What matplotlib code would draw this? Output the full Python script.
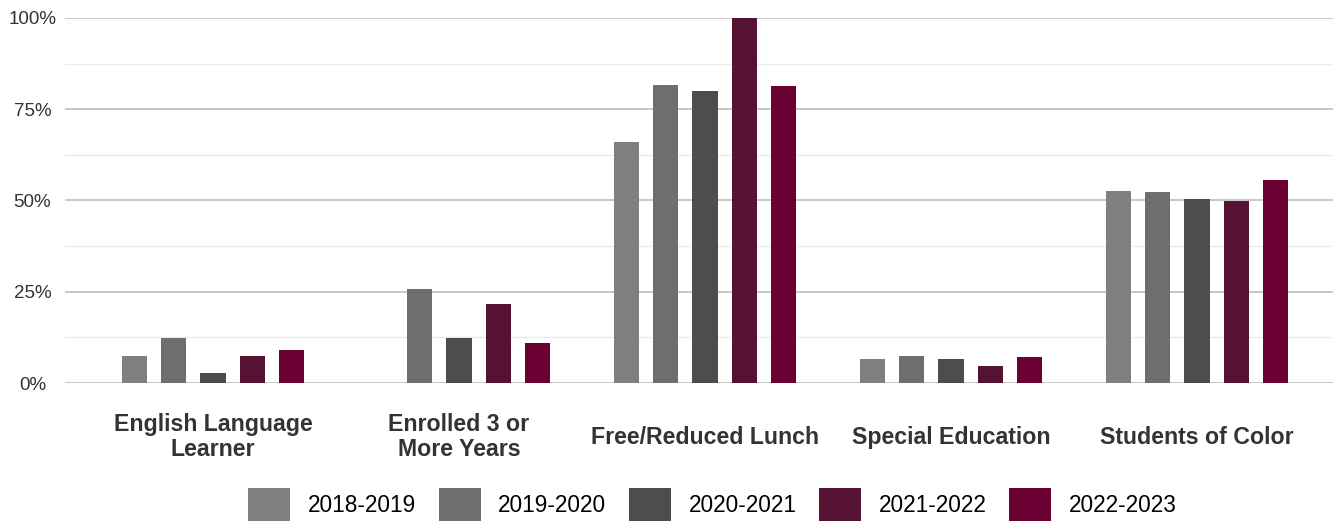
import numpy as np
import matplotlib.pyplot as plt
from matplotlib.ticker import MultipleLocator, PercentFormatter

# categorias y series
categorias = ["English Language\nLearner", "Enrolled 3 or\nMore Years", "Free/Reduced Lunch",
              "Special Education", "Students of Color"]
anios = ["2018-2019", "2019-2020", "2020-2021", "2021-2022", "2022-2023"]
v_2018 = [7.4, np.nan, 66.0, 6.6, 52.6]
v_2019 = [12.3, 25.8, 81.6, 7.4, 52.3]
v_2020 = [2.7, 12.3, 80.0, 6.6, 50.4]
v_2021 = [7.4, 21.6, 100.0, 4.7, 49.9]
v_2022 = [9.0, 11.0, 81.4, 7.1, 55.6]
series = [v_2018, v_2019, v_2020, v_2021, v_2022]
colores = ["#7f7f7f", "#6e6e6e", "#4d4d4d", "#561232", "#6b0032"]

plt.rcParams['font.family'] = ['Liberation Sans', 'DejaVu Sans']

fig = plt.figure(figsize=(13.33, 5.23), dpi=100)
ax = fig.add_axes([65/1333, 140/523, 1268/1333, 365/523])

x = np.arange(len(categorias))
paso = 0.16
ancho = 0.102
for i, (vals, col, anio) in enumerate(zip(series, colores, anios)):
    ax.bar(x + (i - 2) * paso, vals, width=ancho, color=col, label=anio, zorder=3, clip_on=False)

ax.set_xlim(-0.6016, 4.553)
ax.set_ylim(0, 100)
ax.yaxis.set_major_locator(MultipleLocator(25))
ax.yaxis.set_minor_locator(MultipleLocator(12.5))
ax.yaxis.set_major_formatter(PercentFormatter(decimals=0))
ax.grid(axis='y', which='major', color='#c8c8c8', linewidth=1.4, zorder=0)
ax.grid(axis='y', which='minor', color='#ebebeb', linewidth=1.0, zorder=0)
for s in ax.spines.values():
    s.set_visible(False)

ax.set_xticks(x)
ax.set_xticklabels(categorias, fontsize=16.7, fontweight='bold', color='#333333',
                   va='center', linespacing=1.1)
ax.tick_params(axis='x', length=0, pad=39)
ax.tick_params(axis='y', which='both', length=0, pad=23.4, labelsize=13.5, labelcolor='#333333')
for t in ax.get_yticklabels():
    t.set_horizontalalignment('center')

leg = fig.legend(loc='upper center', bbox_to_anchor=(712.5/1333, 35/523), ncol=5, frameon=False,
                 fontsize=16.3, handlelength=1.85, handleheight=1.85, handletextpad=0.78,
                 columnspacing=1.0, borderpad=0, borderaxespad=0)

fig.savefig("out.png", dpi=100)
